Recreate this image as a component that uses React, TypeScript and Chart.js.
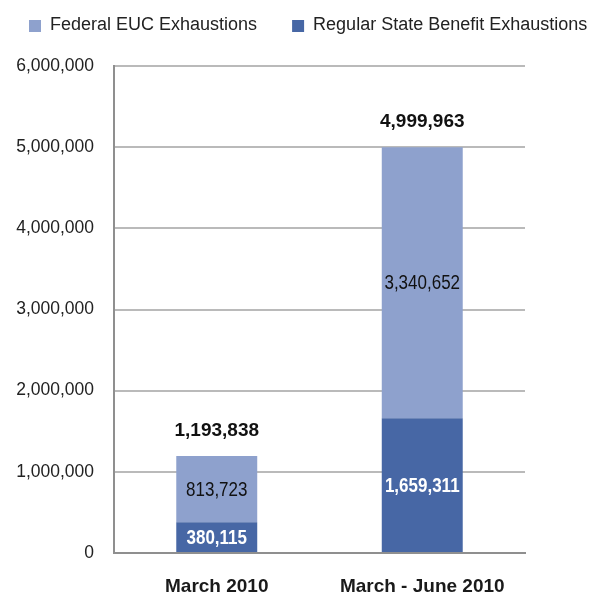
import { useEffect, useRef } from "react";
import { Chart, registerables } from "chart.js";

Chart.register(...registerables);

const categories = ["March 2010", "March - June 2010"];
const regularStateValues = [380115, 1659311];
const federalEucValues = [813723, 3340652];
const seriesLabels = ["Regular State Benefit Exhaustions", "Federal EUC Exhaustions"];
const yTickValues = [0, 1000000, 2000000, 3000000, 4000000, 5000000, 6000000];

const LIGHT = "#8EA1CD";
const DARK = "#4767A5";
const FONT = '"Liberation Sans", Arial, sans-serif';

const fmt = (v: number) => v.toLocaleString("en-US");

const valueLabelPlugin = {
  id: "valueLabels",
  afterDatasetsDraw(chart: any) {
    const ctx = chart.ctx;
    ctx.save();
    ctx.textAlign = "center";
    ctx.textBaseline = "middle";
    chart.data.datasets.forEach((ds: any, di: number) => {
      const meta = chart.getDatasetMeta(di);
      meta.data.forEach((el: any, i: number) => {
        const p = el.getProps(["x", "y", "base"], true);
        ctx.save();
        ctx.fillStyle = di === 0 ? "#ffffff" : "#111111";
        ctx.font = di === 0 ? `bold 20px ${FONT}` : `20px ${FONT}`;
        ctx.translate(p.x, (p.y + p.base) / 2 + 1);
        ctx.scale(0.85, 1);
        ctx.fillText(fmt(ds.data[i]), 0, 0);
        ctx.restore();
      });
    });
    const topMeta = chart.getDatasetMeta(chart.data.datasets.length - 1);
    ctx.fillStyle = "#111111";
    ctx.font = `bold 19px ${FONT}`;
    topMeta.data.forEach((el: any, i: number) => {
      const total = chart.data.datasets.reduce((s: number, ds: any) => s + ds.data[i], 0);
      const p = el.getProps(["x", "y"], true);
      ctx.fillText(fmt(total), p.x, p.y - 25);
    });
    ctx.restore();
  },
};

const legendPlugin = {
  id: "topLegend",
  afterDraw(chart: any) {
    const ctx = chart.ctx;
    ctx.save();
    ctx.font = `18px ${FONT}`;
    ctx.textAlign = "left";
    ctx.textBaseline = "middle";
    let x = 29;
    const order = [1, 0];
    order.forEach((di) => {
      const ds = chart.data.datasets[di];
      ctx.fillStyle = ds.backgroundColor;
      ctx.fillRect(x, 20, 12, 12);
      ctx.fillStyle = "#222222";
      ctx.fillText(ds.label, x + 21, 25.5);
      x += 21 + ctx.measureText(ds.label).width + 35;
    });
    ctx.restore();
  },
};

export default function App() {
  const ref = useRef<HTMLCanvasElement | null>(null);

  useEffect(() => {
    if (!ref.current) return;
    const chart = new Chart(ref.current, {
      type: "bar",
      data: {
        labels: categories,
        datasets: [
          {
            label: seriesLabels[0],
            data: regularStateValues,
            backgroundColor: DARK,
            barPercentage: 0.394,
            categoryPercentage: 1,
          },
          {
            label: seriesLabels[1],
            data: federalEucValues,
            backgroundColor: LIGHT,
            barPercentage: 0.394,
            categoryPercentage: 1,
          },
        ],
      },
      options: {
        animation: false,
        responsive: false,
        devicePixelRatio: 1,
        layout: { padding: { left: 0, right: 66, top: 66, bottom: 0 } },
        plugins: {
          legend: { display: false },
          tooltip: { enabled: false },
        },
        scales: {
          x: {
            stacked: true,
            grid: { display: false, drawTicks: false },
            border: { display: true, color: "#8f8f8f", width: 2 },
            ticks: {
              color: "#1a1a1a",
              font: { family: FONT, size: 19, weight: "bold" },
              padding: 22,
            },
            afterFit: (scale: any) => {
              scale.height = 43;
            },
          },
          y: {
            stacked: true,
            min: 0,
            max: 6000000,
            afterBuildTicks: (scale: any) => {
              scale.ticks = yTickValues.map((v) => ({ value: v }));
            },
            grid: { color: "#bababa", lineWidth: 2, drawTicks: false },
            border: { display: true, color: "#8f8f8f", width: 2 },
            ticks: {
              color: "#222222",
              font: { family: FONT, size: 17.5 },
              padding: 20,
              callback: (v: any) => fmt(Number(v)),
            },
            afterFit: (scale: any) => {
              scale.width = 114;
            },
          },
        },
      },
      plugins: [valueLabelPlugin, legendPlugin],
    });
    return () => chart.destroy();
  }, []);

  return (
    <div style={{ position: "absolute", left: 0, top: 0, width: 591, height: 596, background: "#fff" }}>
      <canvas ref={ref} width={591} height={596} style={{ width: 591, height: 596, display: "block" }} />
    </div>
  );
}
